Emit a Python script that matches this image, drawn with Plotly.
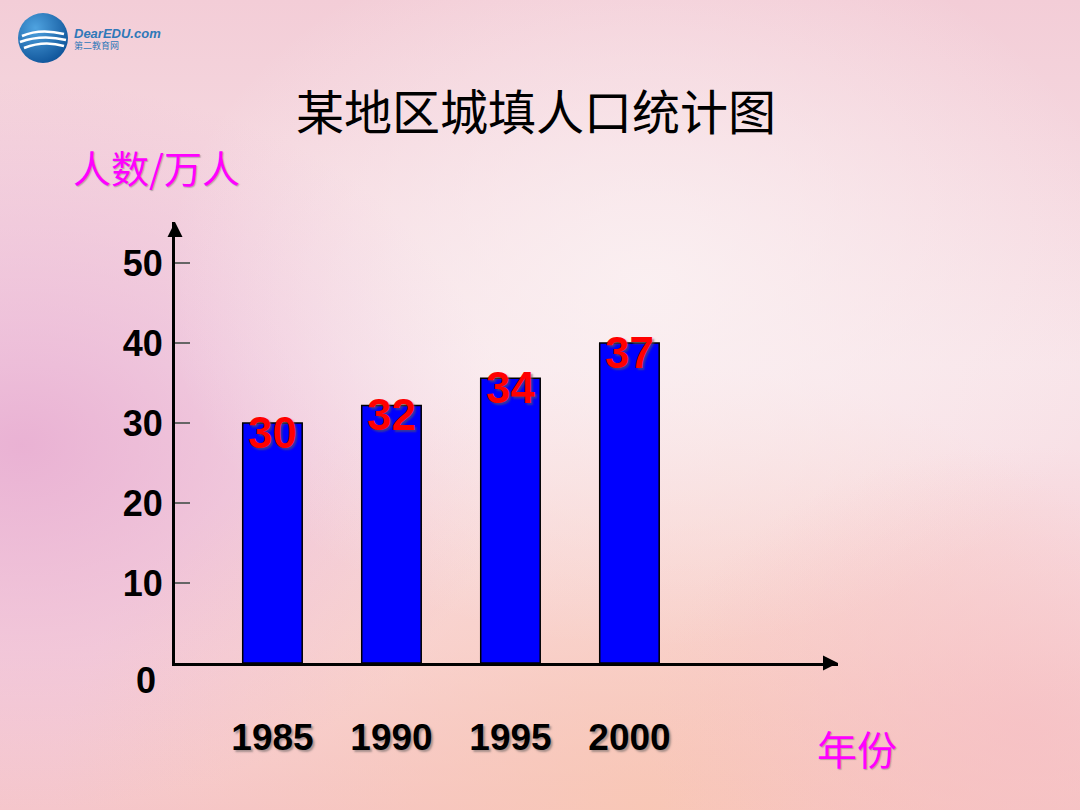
import base64
import plotly.graph_objects as go

# ---- data ----
years = ["1985", "1990", "1995", "2000"]
bar_heights = [30, 32.2, 35.6, 40]      # drawn heights
bar_labels = ["30", "32", "34", "37"]   # printed labels
y_ticks = [0, 10, 20, 30, 40, 50]
title_text = "某地区城填人口统计图"
y_title = "人数/万人"
x_title = "年份"

# ---- layout geometry (pixels) ----
W, H = 1080, 810
L, R, T, B = 175, 838, 222, 663
pw, ph = R - L, B - T


def px(xp, yp):
    return (xp - L) / pw, (B - yp) / ph


# ---- background (decorative) ----
svg = f'''<svg xmlns="http://www.w3.org/2000/svg" width="{W}" height="{H}">
<defs>
<linearGradient id="g0" x1="0" y1="0" x2="0" y2="1">
<stop offset="0" stop-color="#f3cdd7"/><stop offset="0.45" stop-color="#f8e4e9"/>
<stop offset="0.8" stop-color="#f8d8de"/><stop offset="1" stop-color="#f5c6cb"/></linearGradient>
<radialGradient id="g1" cx="0.02" cy="0.55" r="0.45">
<stop offset="0" stop-color="#e6a6cf" stop-opacity="0.8"/><stop offset="1" stop-color="#e6a6cf" stop-opacity="0"/></radialGradient>
<radialGradient id="g2" cx="0.6" cy="1.0" r="0.55">
<stop offset="0" stop-color="#f9c7b1" stop-opacity="0.8"/><stop offset="1" stop-color="#f9c7b1" stop-opacity="0"/></radialGradient>
<radialGradient id="g3" cx="0.6" cy="0.35" r="0.45">
<stop offset="0" stop-color="#fbf2f3" stop-opacity="0.85"/><stop offset="1" stop-color="#fbf2f3" stop-opacity="0"/></radialGradient>
<radialGradient id="g4" cx="0.95" cy="0.9" r="0.35">
<stop offset="0" stop-color="#f6bec3" stop-opacity="0.7"/><stop offset="1" stop-color="#f6bec3" stop-opacity="0"/></radialGradient>
<radialGradient id="lg" cx="0.35" cy="0.3" r="0.8">
<stop offset="0" stop-color="#4fa3e0"/><stop offset="1" stop-color="#0b4f95"/></radialGradient>
</defs>
<rect width="{W}" height="{H}" fill="url(#g0)"/>
<rect width="{W}" height="{H}" fill="url(#g1)"/>
<rect width="{W}" height="{H}" fill="url(#g2)"/>
<rect width="{W}" height="{H}" fill="url(#g3)"/>
<rect width="{W}" height="{H}" fill="url(#g4)"/>
<circle cx="43" cy="38" r="25" fill="url(#lg)"/>
<path d="M22 36 Q40 28 64 34 M20 42 Q42 34 66 40 M24 48 Q44 40 64 46" stroke="#ffffff" stroke-width="2.5" fill="none"/>
</svg>'''
bg_uri = "data:image/svg+xml;base64," + base64.b64encode(svg.encode()).decode()

fig = go.Figure()
fig.add_trace(go.Bar(
    x=list(range(len(years))), y=bar_heights, width=0.5,
    marker=dict(color="#0000ff", line=dict(color="#000000", width=1.5)),
    hoverinfo="skip",
))

shadow = "2px 2px 2px rgba(90,90,90,0.6)"

annotations = []
# bar value labels
for i, (h, t) in enumerate(zip(bar_heights, bar_labels)):
    annotations.append(dict(
        x=i, y=h, xref="x", yref="y", text=t, showarrow=False,
        yanchor="middle", yshift=-9,
        font=dict(family="Liberation Sans, Arial", size=44, color="#ff0000",
                  weight="bold", shadow=shadow)))
# zero label below axis
annotations.append(dict(
    x=0, y=0, xref="paper", yref="y", text=str(y_ticks[0]), showarrow=False,
    xanchor="right", yanchor="middle", xshift=-17, yshift=-17,
    font=dict(family="Liberation Sans, Arial", size=36, color="#000000", weight="bold")))
# axis arrows
annotations.append(dict(x=0, y=1, xref="paper", yref="paper", ax=0, ay=12,
                        showarrow=True, arrowhead=2, arrowsize=1.2, arrowwidth=2.5,
                        arrowcolor="#000000", text=""))
annotations.append(dict(x=1, y=0, xref="paper", yref="paper", ax=-12, ay=0,
                        showarrow=True, arrowhead=2, arrowsize=1.2, arrowwidth=2.5,
                        arrowcolor="#000000", text=""))
# axis titles
xx, yy = px(156, 166)
annotations.append(dict(x=xx, y=yy, xref="paper", yref="paper", text=y_title,
                        showarrow=False, xanchor="center", yanchor="middle",
                        font=dict(family="Noto Sans CJK SC", size=38, color="#ff00ff",
                                  shadow="1px 1px 1px rgba(120,120,120,0.5)")))
xx, yy = px(857, 748)
annotations.append(dict(x=xx, y=yy, xref="paper", yref="paper", text=x_title,
                        showarrow=False, xanchor="center", yanchor="middle",
                        font=dict(family="Noto Sans CJK SC", size=40, color="#ff00ff",
                                  shadow="1px 1px 1px rgba(120,120,120,0.5)")))
# logo text
xx, yy = px(72, 33)
annotations.append(dict(x=xx, y=yy, xref="paper", yref="paper", text="<b><i>DearEDU.com</i></b>",
                        showarrow=False, xanchor="left", yanchor="middle",
                        font=dict(family="Liberation Sans, Arial", size=13, color="#2f78b8")))
xx, yy = px(72, 45)
annotations.append(dict(x=xx, y=yy, xref="paper", yref="paper", text="第二教育网",
                        showarrow=False, xanchor="left", yanchor="middle",
                        font=dict(family="Noto Sans CJK SC", size=9, color="#2f78b8")))

fig.update_layout(
    width=W, height=H,
    margin=dict(l=L, r=W - R, t=T, b=H - B, pad=0),
    paper_bgcolor="#f6dde3", plot_bgcolor="rgba(0,0,0,0)",
    showlegend=False,
    title=dict(text=title_text, x=536 / W, xanchor="center", y=1 - 113 / H, yanchor="middle",
               font=dict(family="Noto Sans CJK SC", size=48, color="#000000")),
    xaxis=dict(range=[-0.819, -0.819 + pw / 119], tickvals=list(range(len(years))),
               ticktext=years, showgrid=False, zeroline=False,
               showline=True, linecolor="#000000", linewidth=3, ticks="",
               ticklabelstandoff=40, fixedrange=True,
               tickfont=dict(family="Liberation Sans, Arial", size=37, color="#000000",
                             weight="bold", shadow="2px 2px 2px rgba(90,90,90,0.5)")),
    yaxis=dict(range=[0, ph / 8.0], tickvals=y_ticks[1:], ticktext=[str(v) for v in y_ticks[1:]],
               showgrid=False, zeroline=False, showline=True, linecolor="#000000",
               linewidth=3, ticks="inside", ticklen=15, tickcolor="#666666", tickwidth=1.5,
               ticklabelstandoff=2, fixedrange=True,
               tickfont=dict(family="Liberation Sans, Arial", size=36, color="#000000",
                             weight="bold")),
    annotations=annotations,
    images=[dict(source=bg_uri, xref="paper", yref="paper",
                 x=-L / pw, y=1 + T / ph, sizex=W / pw, sizey=H / ph,
                 sizing="stretch", xanchor="left", yanchor="top", layer="below")],
)

fig.write_html("out.html", config={"displayModeBar": False},
               post_script="document.body.style.margin='0';document.body.style.overflow='hidden';")
